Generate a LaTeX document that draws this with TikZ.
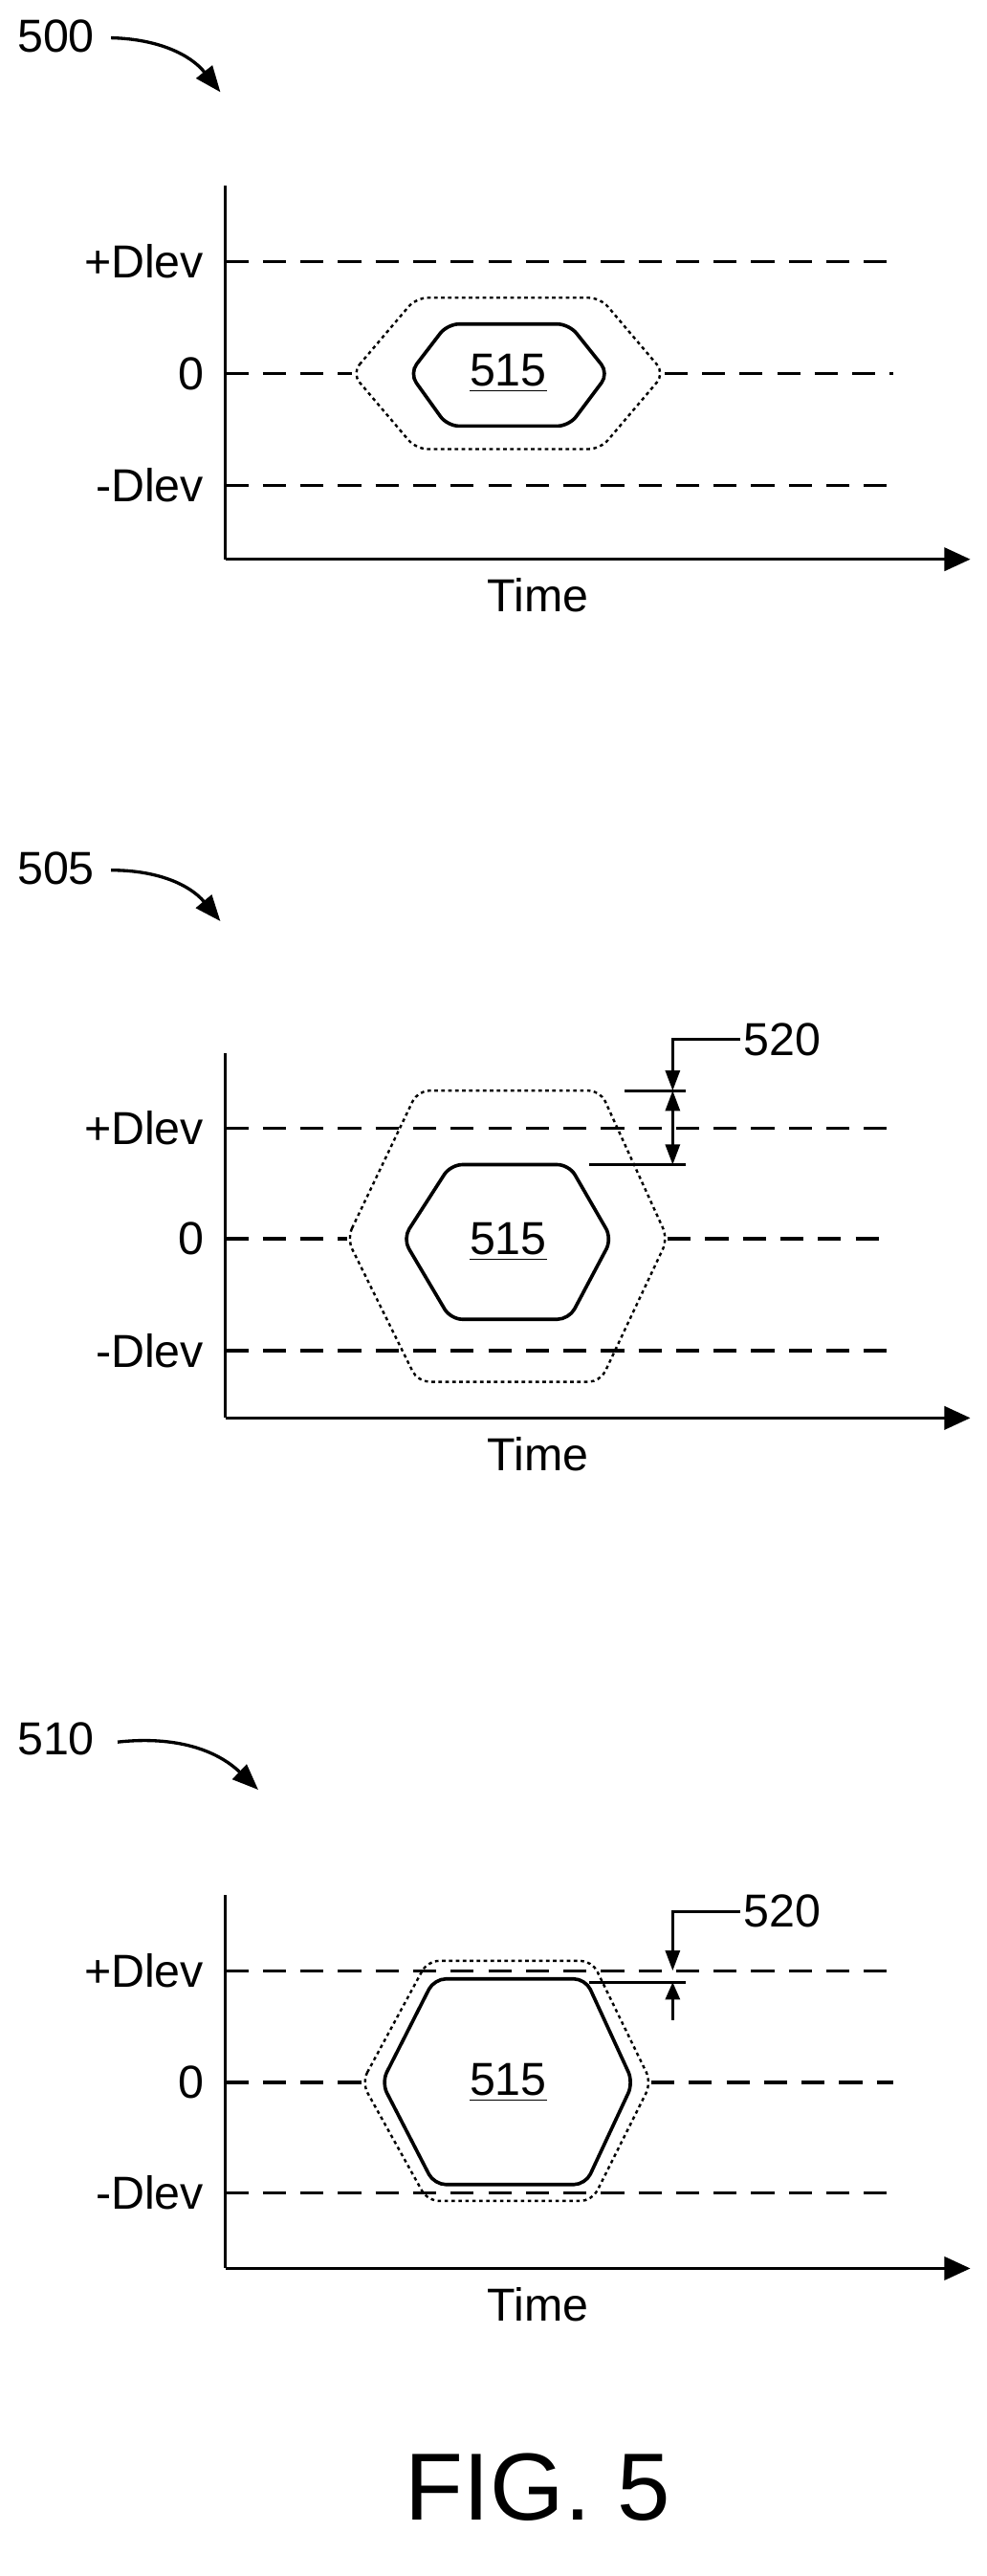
\documentclass[tikz,border=0pt]{standalone}
\usepackage{fontspec}
\setmainfont{Liberation Sans}
\usetikzlibrary{arrows.meta}
\begin{document}
\begin{tikzpicture}
[x=0.02cm,y=-0.02cm,
  axisLine/.style={line width=1.1pt},%
  levelLine/.style={line width=1.1pt,dash pattern=on 8pt off 5pt},%
  eyeLine/.style={line width=1.2pt,rounded corners=4pt},%
  maskLine/.style={line width=0.8pt,dash pattern=on 1.2pt off 1.2pt,rounded corners=4pt},%
  dimLine/.style={line width=0.9pt},%
  refLabel/.style={font=\fontsize{16}{19}\selectfont,inner sep=1pt},%
  lvlLabel/.style={font=\fontsize{16}{19}\selectfont,anchor=east,inner sep=1pt}]
\useasboundingbox (0,0) rectangle (600,1566);
%% one panel: axes and level lines
%% #1 name, #2 top, #3 x-axis, #4 +Dlev, #5 zero, #6 -Dlev, #7 left eye tip, #8 right eye tip
\newcommand{\panelaxes}[8]{
  \coordinate (#1top) at (137,#2);
  \coordinate (#1org) at (137,#3);
  \coordinate (#1end) at (590,#3);
  \draw[axisLine] (#1top) -- (#1org);
  \draw[axisLine,-{Triangle[length=9pt,width=8pt]}] (#1org) -- (#1end);
  \node[refLabel] (#1time) at (327,#3+22) {Time};
  \node[lvlLabel] (#1plus) at (126,#4) {+Dlev};
  \node[lvlLabel] (#1zero) at (126,#5) {0};
  \node[lvlLabel] (#1minus) at (126,#6) {-Dlev};
  \draw[levelLine] (137,#4) -- (543,#4);
  \draw[levelLine] (137,#5) -- (#7,#5);
  \draw[levelLine] (#8,#5) -- (543,#5);
  \draw[levelLine] (137,#6) -- (543,#6);
}
%% hexagon: #1 style, #2 left tip, #3 top-left, #4 top-right, #5 right tip, #6 top, #7 mid, #8 bottom
\newcommand{\hexeye}[8]{
  \draw[#1] (#2,#7) -- (#3,#6) -- (#4,#6) -- (#5,#7) -- (#4,#8) -- (#3,#8) -- cycle;
}
%% panel 500
\node[refLabel] (n500) at (34,22) {500};
\coordinate (a500) at (134,56);
\draw[line width=1.1pt,-{Triangle[length=9pt,width=7pt]}] (n500.east) ++(8,1) to[bend left=25] (a500);
\panelaxes{p}{113}{340}{159}{227}{295}{214}{404}
\hexeye{maskLine}{214}{253}{365}{404}{181}{227}{273}
\hexeye{eyeLine}{249}{272}{346}{370}{197}{227}{259}
\node[refLabel] (pe515) at (309,227) {\underline{515}};
%% panel 505
\node[refLabel] (n505) at (34,528) {505};
\coordinate (a505) at (134,560);
\draw[line width=1.1pt,-{Triangle[length=9pt,width=7pt]}] (n505.east) ++(8,1) to[bend left=25] (a505);
\panelaxes{q}{640}{862}{686}{753}{821}{211}{406}
\hexeye{maskLine}{211}{254}{365}{406}{663}{753}{840}
\hexeye{eyeLine}{245}{274}{346}{372}{708}{753}{802}
\node[refLabel] (qe515) at (309,755) {\underline{515}};
\node[refLabel,anchor=west] (q520) at (450,632) {520};
\coordinate (qtickA) at (417,663);
\coordinate (qtickB) at (417,708);
\coordinate (qleadA) at (409,632);
\coordinate (qdimA) at (409,663);
\coordinate (qdimB) at (409,708);
\draw[dimLine] (380,663) -- (qtickA);
\draw[dimLine] (358,708) -- (qtickB);
\draw[dimLine,-{Triangle[length=7pt,width=5pt]}] (q520.west) -- (qleadA) -- (qdimA);
\draw[dimLine,{Triangle[length=7pt,width=5pt]}-{Triangle[length=7pt,width=5pt]}] (qdimA) -- (qdimB);
%% panel 510
\node[refLabel] (n510) at (34,1057) {510};
\coordinate (a510) at (157,1088);
\draw[line width=1.1pt,-{Triangle[length=9pt,width=7pt]}] (n510.east) ++(12,2) to[bend left=25] (a510);
\panelaxes{r}{1152}{1379}{1198}{1266}{1333}{220}{396}
\hexeye{maskLine}{220}{260}{360}{396}{1192}{1266}{1338}
\hexeye{eyeLine}{232}{264}{356}{385}{1203}{1266}{1328}
\node[refLabel] (re515) at (309,1266) {\underline{515}};
\node[refLabel,anchor=west] (r520) at (450,1162) {520};
\coordinate (rleadA) at (409,1162);
\coordinate (rdimA) at (409,1198);
\coordinate (rdimB) at (409,1205);
\coordinate (rtail) at (409,1228);
\coordinate (rtick) at (417,1205);
\draw[dimLine] (358,1205) -- (rtick);
\draw[dimLine,-{Triangle[length=7pt,width=5pt]}] (r520.west) -- (rleadA) -- (rdimA);
\draw[dimLine,-{Triangle[length=6pt,width=5pt]}] (rtail) -- (rdimB);
%% figure caption
\node[font=\fontsize{33}{37}\selectfont] (fig) at (327,1512) {FIG. 5};
\end{tikzpicture}
\end{document}
